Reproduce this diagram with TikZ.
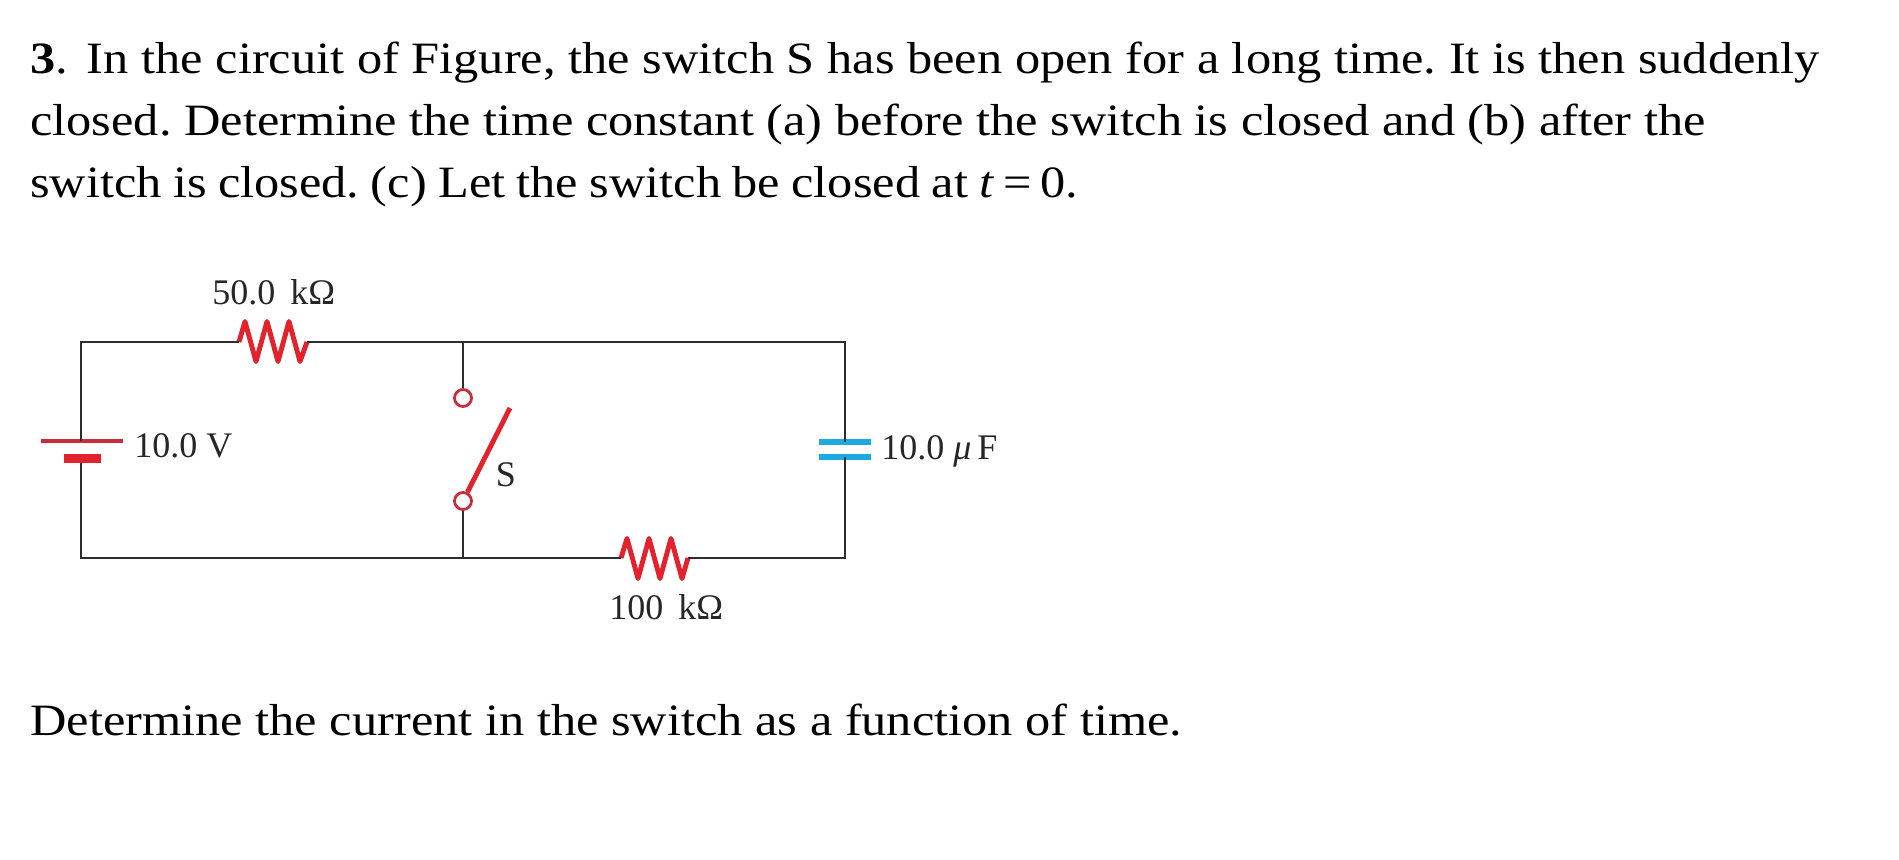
\documentclass[tikz,border=0pt]{standalone}
\usepackage{fontspec}
\usepackage{xcolor}
\setmainfont{Liberation Serif}
\newfontfamily\questionfont[FakeStretch=1.125]{Liberation Serif}
\definecolor{wiregray}{RGB}{45, 45, 45}
\definecolor{partred}{RGB}{226, 35, 45}
\definecolor{platered}{RGB}{200, 45, 60}
\definecolor{capblue}{RGB}{30, 170, 225}
\usetikzlibrary{positioning}

\begin{document}
\begin{tikzpicture}[
    x=0.02cm, y=-0.02cm,
    line/.style={anchor=base west, inner sep=0, font=\questionfont\fontsize{25.5}{30}\selectfont\frenchspacing},
    value/.style={anchor=base west, inner sep=0, text=black!85, font=\fontsize{20.5}{24}\selectfont},
    wire/.style={draw=wiregray, line width=1.3pt},
    zigzag/.style={draw=partred, line width=2.8pt, line join=round},
    terminal/.style={circle, draw=platered, line width=1.6pt, fill=white, minimum size=0.34cm, inner sep=0},
    plate/.style={rectangle, fill=#1, inner sep=0}
]
    \useasboundingbox (0, 0) rectangle (1899, 859);

    % Question text
    \node[line] (first) at (30, 73) {\textbf{3}.\hspace{0.42em}In the circuit of Figure, the switch S has been open for a long time. It is then suddenly};
    \node[line] (second) at (30, 135) {closed. Determine the time constant (a) before the switch is closed and (b) after the};
    \node[line] (third) at (30, 197) {\spaceskip=.9\fontdimen2\font switch is closed. (c) Let the switch be closed at \textit{t}\hspace{0.2em}=\hspace{0.2em}0.};
    \node[line] (last) at (30, 735) {Determine the current in the switch as a function of time.};

    % Corners and junctions
    \coordinate (tl) at (81, 342);
    \coordinate (tr) at (845, 342);
    \coordinate (bl) at (81, 558);
    \coordinate (br) at (845, 558);
    \coordinate (jt) at (463, 342);
    \coordinate (jb) at (463, 558);

    % Battery
    \node[plate=platered, minimum width=1.64cm, minimum height=0.08cm] (batlong) at (82, 441) {};
    \node[plate=partred, minimum width=0.75cm, minimum height=0.18cm] (batshort) at (82.5, 458.5) {};
    \node[value] (vlabel) at (134, 457) {10.0 V};

    % Capacitor
    \node[plate=capblue, minimum width=1.04cm, minimum height=0.11cm] (capa) at (845, 442) {};
    \node[plate=capblue, minimum width=1.04cm, minimum height=0.11cm] (capb) at (845, 457) {};
    \node[value] (clabel) at (881, 459) {10.0 \textit{μ}\,F};

    % Resistors
    \coordinate (ra) at (239, 342);
    \coordinate (rb) at (307, 342);
    \draw[zigzag] (ra) -- (245, 321.5) -- (256, 361.5) -- (267, 321.5) -- (278, 361.5) -- (289, 321.5) -- (300, 361.5) -- (rb);
    \node[value] (ralabel) at (212, 304) {50.0 \,kΩ};

    \coordinate (rc) at (621, 558);
    \coordinate (rd) at (688, 558);
    \draw[zigzag] (rc) -- (627, 538.5) -- (638, 578.5) -- (649, 538.5) -- (660, 578.5) -- (671, 538.5) -- (682, 578.5) -- (rd);
    \node[value] (rblabel) at (609, 619) {100 \,kΩ};

    % Switch
    \node[terminal] (sa) at (463, 398) {};
    \node[terminal] (sb) at (463, 501) {};
    \coordinate (lever) at (510, 408);
    \draw[zigzag] (sb) -- (lever);
    \node[value, anchor=base] (slabel) at (506, 486) {S};

    % Wires
    \draw[wire] (tl |- batlong) -- (tl) -- (ra);
    \draw[wire] (rb) -- (tr) -- (capa.center);
    \draw[wire] (capb.center) -- (br) -- (rd);
    \draw[wire] (rc) -- (bl) -- (batshort.south -| bl);
    \draw[wire] (jt) -- (sa);
    \draw[wire] (sb) -- (jb);
\end{tikzpicture}
\end{document}
